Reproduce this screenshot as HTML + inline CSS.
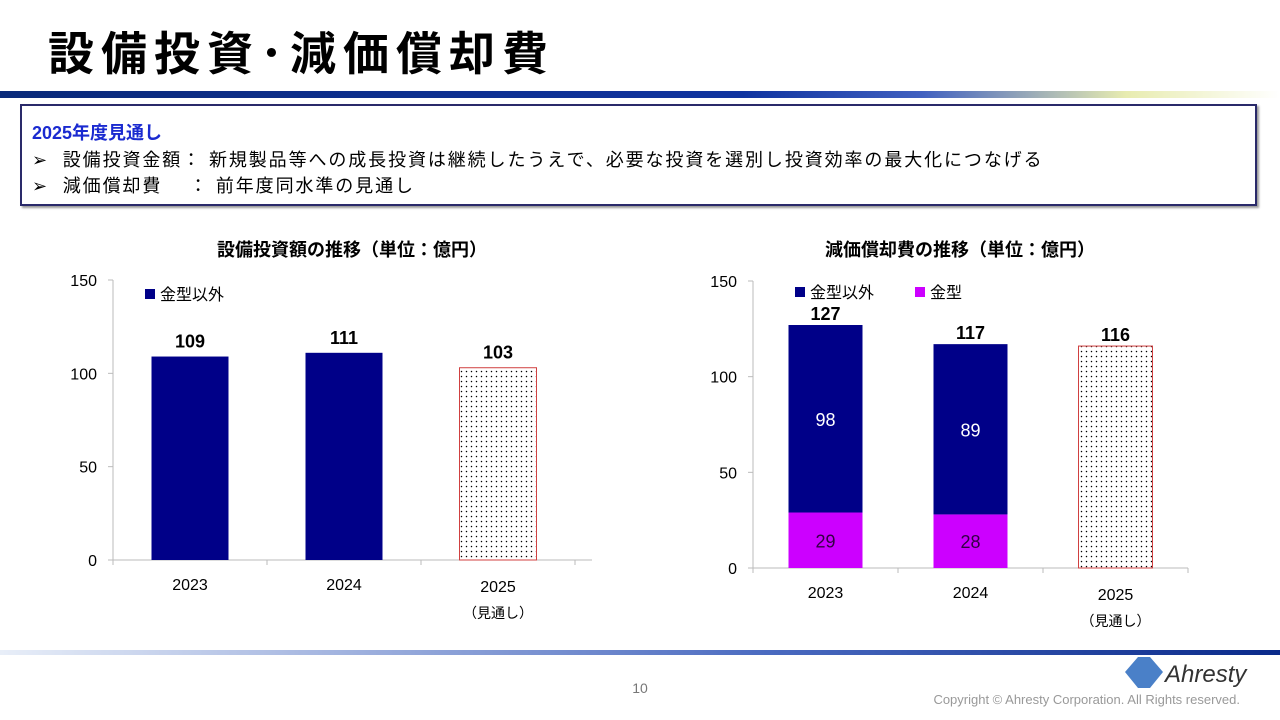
<!DOCTYPE html>
<html><head><meta charset="utf-8">
<style>
body{margin:0;width:1280px;height:720px;background:#fff;position:relative;overflow:hidden;font-family:"Liberation Sans","Noto Sans CJK JP",sans-serif;}
.abs{position:absolute;}
</style></head><body>
<div class="abs" style="left:48px;top:18px;font-size:46px;font-weight:bold;color:#000;letter-spacing:7px;white-space:nowrap;">設備投資･減価償却費</div>
<div class="abs" style="left:0;top:91px;width:1280px;height:7px;background:linear-gradient(to right,#0a2a7a 0%,#1034a0 58%,#4060c0 72%,#e8ecb0 88%,#fff 100%);"></div>
<div class="abs" style="left:20px;top:104px;width:1233px;height:98px;border:2px solid #2a2a6a;box-shadow:2px 2px 2px #999;background:#fff;">
 <div style="position:absolute;left:10px;top:13px;font-size:18px;font-weight:bold;color:#1a2ad0;">2025年度見通し</div>
 <div style="position:absolute;left:10px;top:40px;font-size:18px;letter-spacing:1.9px;white-space:nowrap;">➢&nbsp; 設備投資金額： 新規製品等への成長投資は継続したうえで、必要な投資を選別し投資効率の最大化につなげる</div>
 <div style="position:absolute;left:10px;top:66px;font-size:18px;letter-spacing:1.9px;white-space:nowrap;">➢&nbsp; 減価償却費　 ： 前年度同水準の見通し</div>
</div>
<svg class="abs" style="left:0;top:0" width="1280" height="720" id="svg">
<defs><pattern id="dots" width="5" height="5" patternUnits="userSpaceOnUse"><rect width="5" height="5" fill="#fff"/><circle cx="1.5" cy="1.5" r="0.75" fill="#000"/></pattern>
<linearGradient id="bg" x1="0" x2="1"><stop offset="0" stop-color="#e8eef8"/><stop offset="0.6" stop-color="#4a6ac0"/><stop offset="1" stop-color="#0a2a8a"/></linearGradient></defs>
<rect x="0" y="650" width="1280" height="5" fill="url(#bg)"/>
<text x="640" y="693" font-size="14" fill="#777" text-anchor="middle">10</text>
<text x="1240" y="704" font-size="13" fill="#999" text-anchor="end">Copyright © Ahresty Corporation. All Rights reserved.</text>
<g><polygon points="1138,657 1150,657 1163,672 1150,688 1138,688 1125,672" fill="#4a80c8"/><text x="1165" y="682" font-size="24" font-style="italic" fill="#333">Ahresty</text></g>
<g id="c1"></g><g id="c2"></g>
</svg>
<script>
const categories=["2023","2024","2025"];
const capex=[109,111,103];
const depOther=[98,89,null];
const depMold=[29,28,null];
const depTotal=[127,117,116];
const yTicks=[0,50,100,150];
const NS="http://www.w3.org/2000/svg";
function el(p,t,a,txt){const e=document.createElementNS(NS,t);for(const k in a)e.setAttribute(k,a[k]);if(txt!=null)e.textContent=txt;p.appendChild(e);return e;}
function axes(g,x0,x1,y0,y150,cw,title,tx){
 const y=v=>y0-(y0-y150)*v/150;
 el(g,'line',{x1:x0,y1:y150,x2:x0,y2:y0,stroke:'#bbb'});
 el(g,'line',{x1:x0,y1:y0,x2:x1,y2:y0,stroke:'#bbb'});
 for(const t of yTicks){el(g,'line',{x1:x0-5,y1:y(t),x2:x0,y2:y(t),stroke:'#bbb'});
  const l=el(g,'text',{x:x0-16,y:y(t)+6,'font-size':16,'text-anchor':'end'},t);
  
  }
 for(let i=0;i<=categories.length;i++)el(g,'line',{x1:x0+i*cw,y1:y0,x2:x0+i*cw,y2:y0+5,stroke:'#bbb'});
 categories.forEach((c,i)=>{const cx=x0+cw*(i+0.5);
  const l=el(g,'text',{x:cx,y:y0+(i==2?32:30),'font-size':16,'text-anchor':'middle'},c);
  
  
  if(i==2){const s=el(g,'text',{x:cx,y:y0+58,'font-size':14,'text-anchor':'middle'},'（見通し）');
   
   }});
 const tt=el(g,'text',{x:tx,y:256,'font-size':18,'font-weight':'bold','text-anchor':'middle'},title);
 
 
 return y;}
(function(){const g=document.getElementById('c1');const x0=113,cw=154,bw=77;
 const y=axes(g,x0,592,560,280,cw,'設備投資額の推移（単位：億円）',352);
 capex.forEach((v,i)=>{const cx=x0+cw*(i+0.5);const f=i==2;
  const r=el(g,'rect',{x:cx-bw/2,y:y(v),width:bw,height:560-y(v),fill:f?'url(#dots)':'#000088',stroke:f?'#d04040':'none'});
  
  
  const t=el(g,'text',{x:cx,y:y(v)-9,'font-size':18,'font-weight':'bold','text-anchor':'middle'},v);
  
  });
 el(g,'rect',{x:145,y:289,width:10,height:10,fill:'#000088'});
 const l=el(g,'text',{x:160,y:300,'font-size':16},'金型以外');
 
 
})();
(function(){const g=document.getElementById('c2');const x0=753,cw=145,bw=74,y0=568;
 const y=axes(g,x0,1188,y0,281,cw,'減価償却費の推移（単位：億円）',960);
 categories.forEach((c,i)=>{const cx=x0+cw*(i+0.5);
  if(depMold[i]!=null){
   const m=el(g,'rect',{x:cx-bw/2,y:y(depMold[i]),width:bw,height:y0-y(depMold[i]),fill:'#cc00ff'});
   
   
   const top=depMold[i]+depOther[i];
   const o=el(g,'rect',{x:cx-bw/2,y:y(top),width:bw,height:y(depMold[i])-y(top),fill:'#000088'});
   
   
   const t1=el(g,'text',{x:cx,y:(y(depMold[i])+y0)/2+7,'font-size':18,'text-anchor':'middle',fill:'#330044'},depMold[i]);
   
   
   const t2=el(g,'text',{x:cx,y:(y(top)+y(depMold[i]))/2+7,'font-size':18,'text-anchor':'middle',fill:'#fff'},depOther[i]);
   
   
  } else {
   const r=el(g,'rect',{x:cx-bw/2,y:y(depTotal[i]),width:bw,height:y0-y(depTotal[i]),fill:'url(#dots)',stroke:'#d04040'});
   
   
  }
  const t=el(g,'text',{x:cx,y:y(depTotal[i])-5,'font-size':18,'font-weight':'bold','text-anchor':'middle'},depTotal[i]);
  
  });
 el(g,'rect',{x:795,y:287,width:10,height:10,fill:'#000088'});
 const l1=el(g,'text',{x:810,y:298,'font-size':16},'金型以外');
 
 
 el(g,'rect',{x:915,y:287,width:10,height:10,fill:'#cc00ff'});
 const l2=el(g,'text',{x:930,y:298,'font-size':16},'金型');
 
 
})();
</script>
</body></html>
